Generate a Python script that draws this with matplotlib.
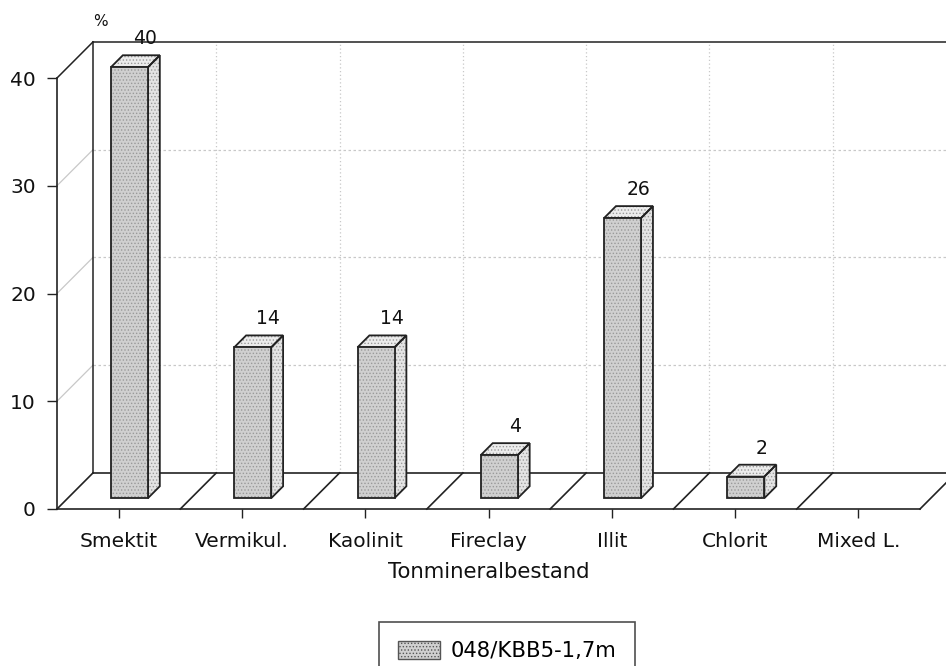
import matplotlib
matplotlib.use('Agg')
import matplotlib.pyplot as plt
from matplotlib.patches import Polygon, Patch

categories = ["Smektit", "Vermikul.", "Kaolinit", "Fireclay", "Illit", "Chlorit", "Mixed L."]
values = [40, 14, 14, 4, 26, 2, 0]
y_ticks = [0, 10, 20, 30, 40]
series_label = "048/KBB5-1,7m"
x_label = "Tonmineralbestand"

plt.rcParams['font.family'] = ['DejaVu Sans']
plt.rcParams['hatch.linewidth'] = 0.6

# oblique depth offset (full depth) in data units
DX = 0.292
DY = 3.35
# bar geometry
bar_w = 0.30
d0, d1 = 0.30, 0.63
line_c = '#222222'
grid_c = '#c8c8c8'

def proj(x, y, d):
    return (x + d * DX, y + d * DY)

fig = plt.figure(figsize=(9.46, 6.66), dpi=100)
ax = fig.add_axes([57 / 946, 1 - 509 / 666, 863 / 946, 431 / 666])
ax.set_xlim(0, len(categories))
ax.set_ylim(0, 40)
ax.patch.set_alpha(0)
for s in ('top', 'right'):
    ax.spines[s].set_visible(False)
for s in ('left', 'bottom'):
    ax.spines[s].set_color(line_c)
    ax.spines[s].set_linewidth(1.2)

n = len(categories)
top = y_ticks[-1]

def seg(p, q, **kw):
    ax.plot([p[0], q[0]], [p[1], q[1]], clip_on=False, **kw)

# back wall gridlines
for y in y_ticks[1:-1]:
    seg(proj(0, y, 1), proj(n, y, 1), color=grid_c, lw=0.9, ls=(0, (2, 2)), zorder=1)
    seg(proj(0, y, 0), proj(0, y, 1), color=grid_c, lw=0.9, zorder=1)
for i in range(1, n):
    seg(proj(i, 0, 1), proj(i, top, 1), color=grid_c, lw=0.9, ls=(0, (1, 2)), zorder=1)

# wall and floor edges
seg(proj(0, 0, 1), proj(0, top, 1), color=line_c, lw=1.1, zorder=2)
seg(proj(0, top, 1), proj(n, top, 1), color=line_c, lw=1.1, zorder=2)
seg(proj(0, top, 0), proj(0, top, 1), color=line_c, lw=1.1, zorder=2)
seg(proj(0, 0, 1), proj(n, 0, 1), color=line_c, lw=1.2, zorder=2)
seg(proj(n, 0, 1), proj(n, top, 1), color=line_c, lw=1.1, zorder=2)
for i in range(0, n + 1):
    seg(proj(i, 0, 0), proj(i, 0, 1), color=line_c, lw=1.2, zorder=2)

# 3D bars
def face(pts, fc, z):
    ax.add_patch(Polygon(pts, closed=True, facecolor=fc, edgecolor='#9a9a9a',
                         hatch='.....', lw=0, zorder=z, clip_on=False))
    ax.add_patch(Polygon(pts, closed=True, fill=False, edgecolor=line_c,
                         lw=1.3, zorder=z + 0.1, clip_on=False, joinstyle='miter'))

for i, v in enumerate(values):
    if v <= 0:
        continue
    x0 = i + 0.5 - bar_w / 2
    x1 = i + 0.5 + bar_w / 2
    front = [proj(x0, 0, d0), proj(x1, 0, d0), proj(x1, v, d0), proj(x0, v, d0)]
    side = [proj(x1, 0, d0), proj(x1, 0, d1), proj(x1, v, d1), proj(x1, v, d0)]
    lid = [proj(x0, v, d0), proj(x1, v, d0), proj(x1, v, d1), proj(x0, v, d1)]
    face(side, '#e4e4e4', 3)
    face(lid, '#ececec', 3)
    face(front, '#d0d0d0', 4)
    lx, ly = proj(i + 0.5, v, d1)
    ax.annotate(str(v), xy=(lx + 0.03, ly), xytext=(0, 8), textcoords='offset points',
                ha='center', va='baseline', fontsize=13.5, color='#111111',
                annotation_clip=False)

ax.set_xticks([i + 0.5 for i in range(n)])
ax.set_xticklabels(categories, fontsize=14.5, color='#111111')
ax.set_yticks(y_ticks)
ax.set_yticklabels([str(t) for t in y_ticks], fontsize=14.5, color='#111111')
ax.tick_params(axis='x', direction='out', length=6.5, width=1.0, pad=10, color=line_c)
ax.tick_params(axis='y', direction='out', length=7.2, width=1.0, pad=8, color=line_c)

ax.set_xlabel(x_label, fontsize=15.3, color='#111111')
ax.xaxis.set_label_coords(0.5, -0.123)
ax.xaxis.label.set_va('top')

ax.text(0.35, 45.2, "%", fontsize=11, ha='center', va='center', clip_on=False, color='#111111')

handle = Patch(facecolor='#d0d0d0', edgecolor='#555555', hatch='.....', lw=1.0)
leg = fig.legend(handles=[handle], labels=[series_label], loc='upper center',
                 bbox_to_anchor=(507 / 946, 1 - 611 / 666), frameon=True, fancybox=False,
                 edgecolor=line_c, fontsize=15.2, handlelength=2.0, handleheight=0.95,
                 borderpad=0.9, handletextpad=0.5)
leg.get_frame().set_linewidth(1.2)

fig.savefig('out.png', dpi=100)
